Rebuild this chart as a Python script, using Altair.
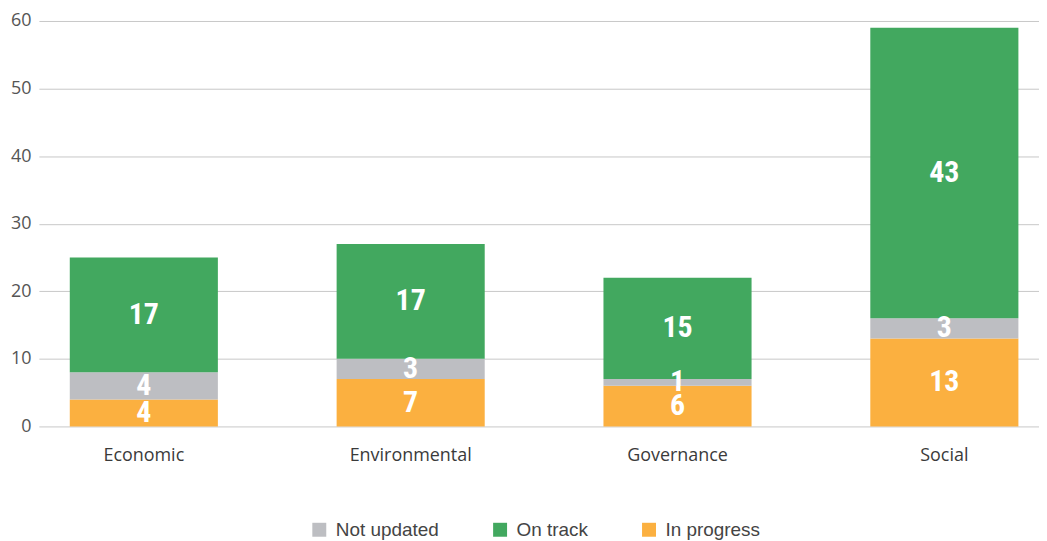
import altair as alt
import pandas as pd

categories = ["Economic", "Environmental", "Governance", "Social"]
in_progress = [4, 7, 6, 13]
not_updated = [4, 3, 1, 3]
on_track = [17, 17, 15, 43]

statuses = ["Not updated", "On track", "In progress"]
stack_order = {"In progress": 0, "Not updated": 1, "On track": 2}
colors = ["#bdbec2", "#42a85f", "#fbb040"]

rows = []
for i, c in enumerate(categories):
    for s, vals in (("In progress", in_progress), ("Not updated", not_updated), ("On track", on_track)):
        rows.append({"category": c, "status": s, "value": vals[i], "ord": stack_order[s]})
df = pd.DataFrame(rows)

base = alt.Chart(df).transform_stack(
    stack="value", groupby=["category"], sort=[alt.SortField("ord", order="ascending")], as_=["y0", "y1"]
).transform_calculate(mid="(datum.y0 + datum.y1) / 2")

xenc = alt.X(
    "category:N",
    sort=categories,
    title=None,
    scale=alt.Scale(paddingInner=0.445, paddingOuter=0.0965, align=0.6),
    axis=alt.Axis(labelAngle=0, ticks=False, domain=False, labelPadding=20, labelFontSize=18,
                  labelColor="#3a3a3a", labelFont="Open Sans"),
)

bars = base.mark_bar().encode(
    x=xenc,
    y=alt.Y("y1:Q", title=None, scale=alt.Scale(domain=[0, 60]),
            axis=alt.Axis(values=[0, 10, 20, 30, 40, 50, 60], ticks=False, domain=False,
                          labelFontSize=18, labelColor="#555555", labelFont="Open Sans",
                          labelPadding=8, gridColor="#c8c8c8", gridWidth=1)),
    y2="y0:Q",
    color=alt.Color("status:N", scale=alt.Scale(domain=statuses, range=colors), title=None,
                    legend=alt.Legend(orient="none", legendX=272, legendY=501,
                                      direction="horizontal", symbolType="square",
                                      symbolSize=196, symbolStrokeWidth=0, labelFontSize=19,
                                      labelFont="Liberation Sans", labelColor="#444444",
                                      columnPadding=51.5, labelOffset=7)),
)

labels = base.mark_text(color="white", fontSize=30, fontWeight="bold",
                        font="Roboto Condensed, Roboto, sans-serif",
                        baseline="middle").encode(
    x=alt.X("category:N", sort=categories),
    y="mid:Q",
    text="value:Q",
)

chart = alt.layer(bars, labels).properties(
    width=1004, height=407,
    padding={"left": 2, "right": 0, "top": 3, "bottom": 0},
).configure_view(stroke=None).configure_axis(grid=True).configure_axisX(grid=False)

chart.save("out.html", embed_options={"renderer": "svg", "actions": False})
